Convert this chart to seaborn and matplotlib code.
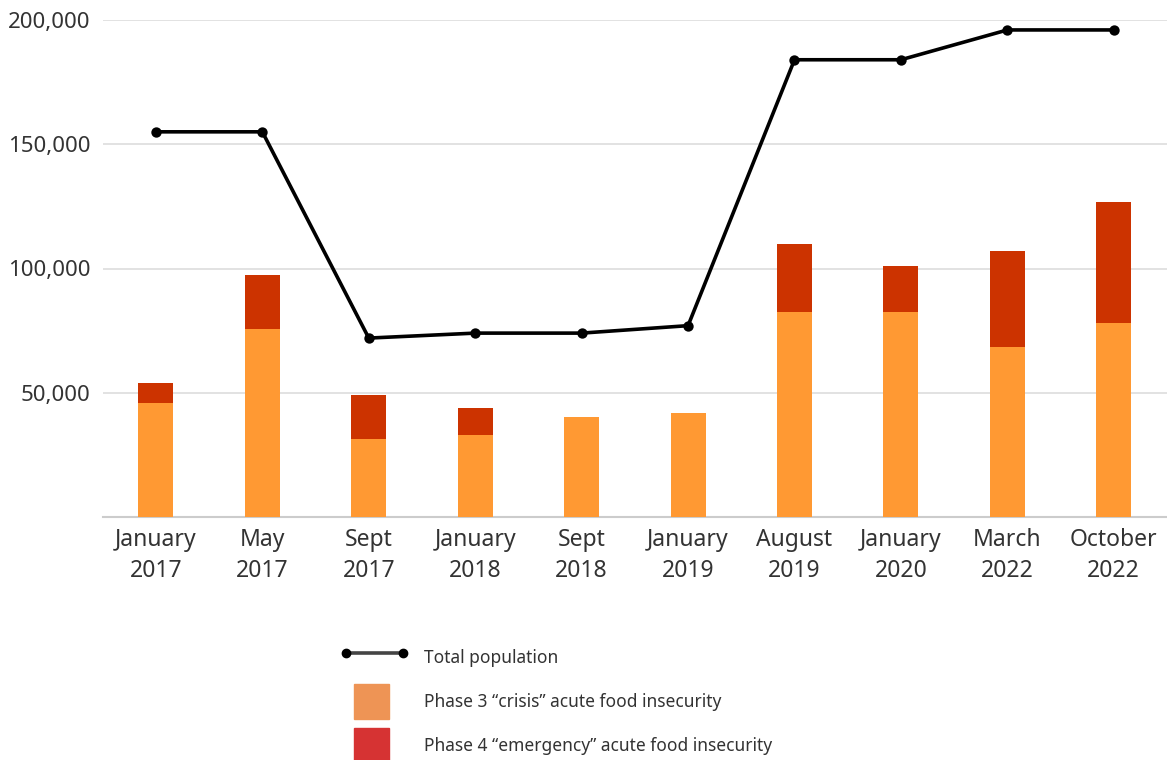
import matplotlib
matplotlib.use("Agg")
import matplotlib.pyplot as plt
import seaborn as sns
import pandas as pd
from matplotlib.lines import Line2D
from matplotlib.patches import Patch, Rectangle
from matplotlib.legend_handler import HandlerPatch
from matplotlib.ticker import FuncFormatter

# values
dates = ["January\n2017", "May\n2017", "Sept\n2017", "January\n2018", "Sept\n2018",
         "January\n2019", "August\n2019", "January\n2020", "March\n2022", "October\n2022"]
total_pop = [155000, 155000, 72000, 74000, 74000, 77000, 184000, 184000, 196000, 196000]
phase3 = [46000, 75500, 31500, 33000, 40200, 41800, 82300, 82300, 68300, 78200]
phase4 = [7800, 21800, 17600, 10900, 0, 0, 27700, 18700, 38700, 48600]

bar3_col = '#FF9933'
bar4_col = '#CC3300'
leg3_col = '#EE9455'
leg4_col = '#D63333'
txt_col = '#333333'

df = pd.DataFrame({'date': dates, 'total': total_pop, 'p3': phase3, 'p4': phase4})
df['p34'] = df['p3'] + df['p4']

sns.set_theme(style='white')
plt.rcParams['font.family'] = ['Noto Sans', 'DejaVu Sans']

fig = plt.figure(figsize=(11.67, 7.6), dpi=100)
ax = fig.add_axes([0.088, 1 - 517 / 760, 1 - 0.088, (517 - 20) / 760])

# stacked bars: total height in red, phase 3 drawn over it in orange
sns.barplot(data=df, x='date', y='p34', color=bar4_col, saturation=1, width=0.33,
            linewidth=0, ax=ax, zorder=2)
sns.barplot(data=df, x='date', y='p3', color=bar3_col, saturation=1, width=0.33,
            linewidth=0, ax=ax, zorder=3)
sns.pointplot(data=df, x='date', y='total', color='black', markers='o', linestyles='-',
              markersize=5.5, linewidth=2.6, ax=ax, zorder=5)

ax.set_xlim(-0.5, 9.5)
ax.set_ylim(0, 200000)
ax.set_yticks([50000, 100000, 150000, 200000])
ax.yaxis.set_major_formatter(FuncFormatter(lambda v, p: f'{int(v):,}'))
ax.grid(axis='y', color='#dddddd', lw=1.2, zorder=0)
ax.set_axisbelow(True)
for s in ['top', 'right', 'left']:
    ax.spines[s].set_visible(False)
ax.spines['bottom'].set_color('#cccccc')
ax.spines['bottom'].set_linewidth(1.5)
ax.set_xlabel('')
ax.set_ylabel('')
ax.tick_params(axis='y', length=0, pad=9, labelsize=16, labelcolor=txt_col)
ax.tick_params(axis='x', length=0, pad=8, labelsize=16.5, labelcolor=txt_col)
for t in ax.get_xticklabels():
    t.set_linespacing(1.4)


def square(legend, orig_handle, xdescent, ydescent, width, height, fontsize):
    s = 25
    return Rectangle((width / 2 - s / 2 - xdescent - 2, height / 2 - s / 2 - ydescent), s, s)


handles = [
    Line2D([], [], color='#444444', lw=2.6, marker='o', markersize=6,
           markerfacecolor='black', markeredgecolor='black'),
    Patch(color=leg3_col),
    Patch(color=leg4_col),
]
labels = ['Total population',
          'Phase 3 \u201ccrisis\u201d acute food insecurity',
          'Phase 4 \u201cemergency\u201d acute food insecurity']
fig.legend(handles, labels, loc='upper left', bbox_to_anchor=(341 / 1167, 1 - 644 / 760),
           frameon=False, fontsize=12.5, labelcolor=txt_col, numpoints=2,
           handlelength=3.85, handleheight=2.0, handletextpad=0.95, labelspacing=1.0,
           borderpad=0, borderaxespad=0,
           handler_map={Patch: HandlerPatch(patch_func=square)})

fig.savefig('out.png', dpi=100)
